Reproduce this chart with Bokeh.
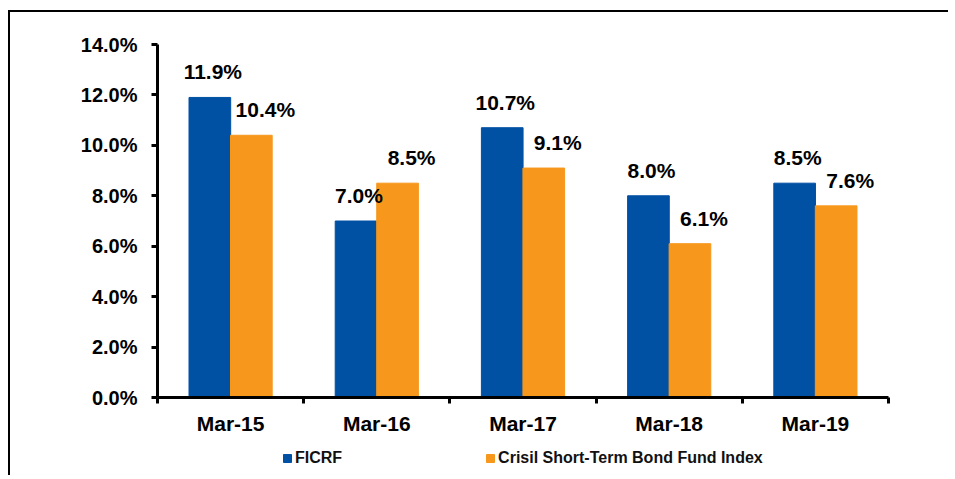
from bokeh.plotting import figure
from bokeh.layouts import column
from bokeh.models import (ColumnDataSource, FixedTicker, PrintfTickFormatter, Legend,
                          LegendItem, LinearAxis, Range1d)
from bokeh.transform import dodge
from bokeh.core.properties import value
from bokeh.embed import file_html
from bokeh.resources import INLINE

categories = ["Mar-15", "Mar-16", "Mar-17", "Mar-18", "Mar-19"]
ficrf = [11.9, 7.0, 10.7, 8.0, 8.5]
crisil = [10.4, 8.5, 9.1, 6.1, 7.6]
y_ticks = [0, 2, 4, 6, 8, 10, 12, 14]
series_names = ["FICRF", "Crisil Short-Term Bond Fund Index"]

BLUE = "#0050A4"
ORANGE = "#F7981D"
FONT = "Liberation Sans"
W_FIG = 940

xpos = [i + 0.5 for i in range(len(categories))]
src = ColumnDataSource(dict(
    x=xpos, cat=categories, ficrf=ficrf, crisil=crisil,
    ficrf_lbl=[f"{v:.1f}%" for v in ficrf],
    crisil_lbl=[f"{v:.1f}%" for v in crisil],
))

p = figure(width=W_FIG, height=430, output_backend="svg", toolbar_location=None,
           x_range=Range1d(0, len(categories)), y_range=Range1d(0, 14),
           min_border_left=147, min_border_right=62, min_border_top=32,
           min_border_bottom=45, x_axis_type=None, y_axis_type=None)
p.styles = {"border-left": "2px solid #000", "border-top": "2px solid #000",
            "position": "relative", "left": "8px", "top": "10px"}
p.outline_line_color = None
p.xgrid.visible = False
p.ygrid.visible = False
p.background_fill_color = "white"
p.border_fill_color = "white"

OFF = 0.142
W = 0.285
p.vbar(x=dodge("x", -OFF), top="ficrf", width=W, source=src,
       fill_color=BLUE, line_color=BLUE)
p.vbar(x=dodge("x", OFF), top="crisil", width=W, source=src,
       fill_color=ORANGE, line_color=ORANGE)

p.text(x=dodge("x", -OFF), y="ficrf", text="ficrf_lbl", source=src,
       text_font=value(FONT), text_font_style="bold", text_font_size="21px",
       text_align="center", text_baseline="bottom", y_offset=-14, x_offset=3,
       text_color="black")
p.text(x=dodge("x", OFF), y="crisil", text="crisil_lbl", source=src,
       text_font=value(FONT), text_font_style="bold", text_font_size="21px",
       text_align="center", text_baseline="bottom", y_offset=-14, x_offset=14,
       text_color="black")

# y axis
yax = LinearAxis(ticker=FixedTicker(ticks=y_ticks),
                 formatter=PrintfTickFormatter(format="%.1f%%"))
yax.axis_line_width = 3
yax.axis_line_color = "black"
yax.major_tick_line_width = 3
yax.major_tick_out = 6
yax.major_tick_in = 0
yax.minor_tick_line_color = None
yax.major_label_text_font = FONT
yax.major_label_text_font_style = "bold"
yax.major_label_text_font_size = "20px"
yax.major_label_text_color = "black"
yax.major_label_standoff = 14
p.add_layout(yax, "left")

# x axis: labels at centers, ticks at category boundaries
xax = LinearAxis(ticker=FixedTicker(ticks=xpos,
                                    minor_ticks=list(range(len(categories) + 1))))
xax.major_label_overrides = {x: c for x, c in zip(xpos, categories)}
xax.axis_line_width = 3
xax.axis_line_color = "black"
xax.major_tick_line_color = None
xax.major_tick_out = 0
xax.major_tick_in = 0
xax.minor_tick_line_color = "black"
xax.minor_tick_line_width = 3
xax.minor_tick_out = 6
xax.minor_tick_in = 0
xax.major_label_text_font = FONT
xax.major_label_text_font_style = "bold"
xax.major_label_text_font_size = "21px"
xax.major_label_text_color = "black"
xax.major_label_standoff = 8
p.add_layout(xax, "below")

# legend strip below the chart (its frame is aligned with the chart's frame)
q = figure(width=W_FIG, height=35, output_backend="svg", toolbar_location=None,
           x_range=Range1d(0, len(categories)), y_range=Range1d(100, 101),
           min_border_left=0, min_border_right=0, min_border_top=0,
           min_border_bottom=0, x_axis_type=None, y_axis_type=None)
q.styles = {"border-left": "2px solid #000", "position": "relative",
            "left": "8px", "top": "10px"}
q.outline_line_color = None
q.xgrid.visible = False
q.ygrid.visible = False
q.background_fill_color = "white"
q.border_fill_color = "white"
# same series drawn below the strip's visible range: only their legend swatches show
l1 = q.vbar(x="x", top="ficrf", width=W, source=src, fill_color=BLUE, line_color=BLUE)
l2 = q.vbar(x="x", top="crisil", width=W, source=src, fill_color=ORANGE, line_color=ORANGE)

legend = Legend(items=[LegendItem(label=series_names[0], renderers=[l1]),
                       LegendItem(label=series_names[1], renderers=[l2])],
                orientation="horizontal", location=(125, 8))
legend.label_text_font = FONT
legend.label_text_font_style = "bold"
legend.label_text_font_size = "16px"
legend.label_text_color = "#111111"
legend.glyph_width = 10
legend.glyph_height = 10
legend.label_standoff = 3
legend.spacing = 143
legend.padding = 0
legend.margin = 0
legend.border_line_color = None
legend.background_fill_alpha = 0
q.add_layout(legend, "center")

layout = column(p, q, spacing=0)
open("out.html", "w").write(file_html(layout, INLINE))
